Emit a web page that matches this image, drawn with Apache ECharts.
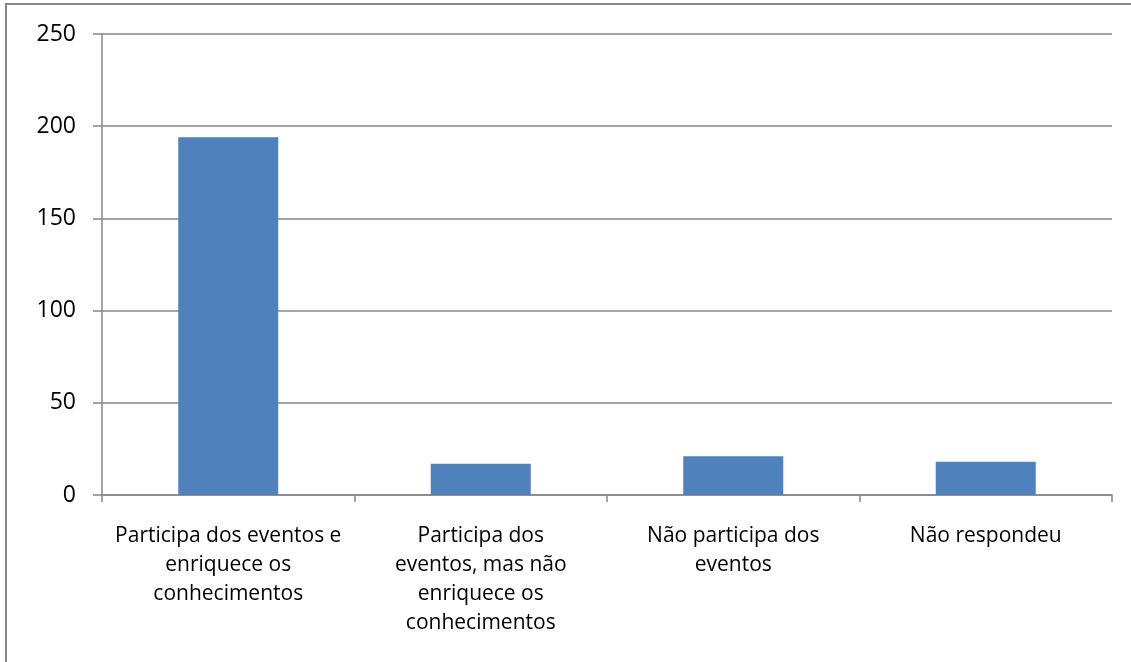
<!DOCTYPE html>
<html>
<head>
<meta charset="utf-8">
<script src="https://cdn.jsdelivr.net/npm/echarts@6/dist/echarts.min.js"></script>
<style>
html,body{margin:0;padding:0;background:#fff;}
#chart{width:1131px;height:662px;}
</style>
</head>
<body>
<div id="chart"></div>
<script>
const categories = [
  "Participa dos eventos e\nenriquece os\nconhecimentos",
  "Participa dos\neventos, mas não\nenriquece os\nconhecimentos",
  "Não participa dos\neventos",
  "Não respondeu"
];
const values = [194, 17, 21, 18];
const yTicks = [0, 50, 100, 150, 200, 250];

const chart = echarts.init(document.getElementById('chart'));
const gray = '#878787';
chart.setOption({
  animation: false,
  backgroundColor: '#fff',
  graphic: [{
    type: 'rect',
    shape: { x: 6, y: 4, width: 1200, height: 700 },
    style: { fill: 'none', stroke: gray, lineWidth: 2 },
    silent: true
  }],
  grid: { left: 102, right: 19, top: 34, bottom: 167, containLabel: false },
  xAxis: {
    type: 'category',
    data: categories,
    axisLine: { show: true, lineStyle: { color: gray, width: 1.5 } },
    axisTick: { show: true, length: 7, lineStyle: { color: gray, width: 1.5 } },
    axisLabel: {
      interval: 0, margin: 27, color: '#000',
      fontFamily: 'Open Sans', fontSize: 21, lineHeight: 29
    }
  },
  yAxis: {
    type: 'value',
    min: yTicks[0], max: yTicks[yTicks.length - 1], interval: 50,
    axisLine: { show: true, lineStyle: { color: gray, width: 1.5 } },
    axisTick: { show: true, length: 9, lineStyle: { color: gray, width: 1.5 } },
    splitLine: { show: true, lineStyle: { color: gray, width: 1.5 } },
    axisLabel: { margin: 26, color: '#000', fontFamily: 'Open Sans', fontSize: 23 }
  },
  series: [{
    type: 'bar',
    data: values,
    barWidth: 100,
    itemStyle: { color: '#4F81BD' }
  }]
});
</script>
</body>
</html>
